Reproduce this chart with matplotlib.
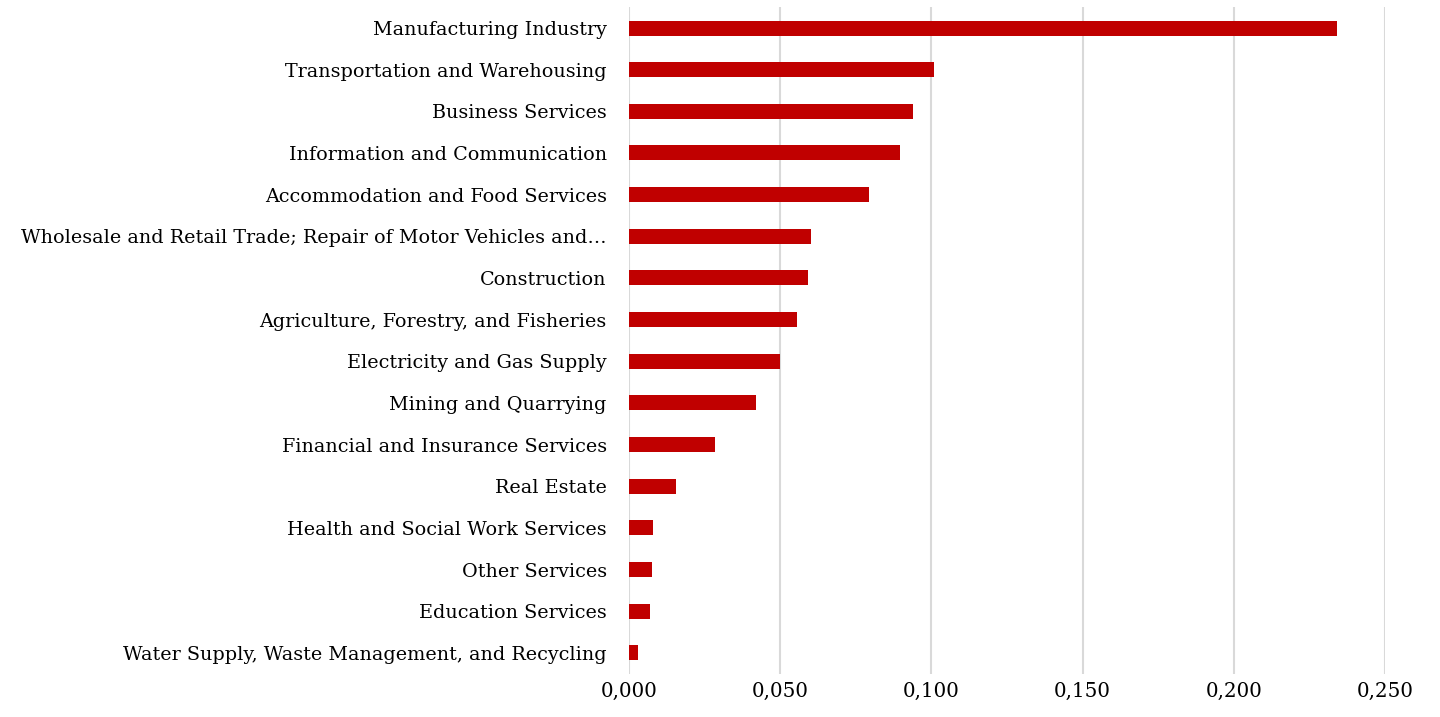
import matplotlib
matplotlib.use("Agg")
import matplotlib.pyplot as plt
from matplotlib.ticker import FuncFormatter

# sectors, top to bottom
sectors = [
    "Manufacturing Industry",
    "Transportation and Warehousing",
    "Business Services",
    "Information and Communication",
    "Accommodation and Food Services",
    "Wholesale and Retail Trade; Repair of Motor Vehicles and…",
    "Construction",
    "Agriculture, Forestry, and Fisheries",
    "Electricity and Gas Supply",
    "Mining and Quarrying",
    "Financial and Insurance Services",
    "Real Estate",
    "Health and Social Work Services",
    "Other Services",
    "Education Services",
    "Water Supply, Waste Management, and Recycling",
]
values = [0.234, 0.101, 0.094, 0.0896, 0.0794, 0.0602, 0.0592, 0.0556,
          0.050, 0.042, 0.0284, 0.0155, 0.0079, 0.0076, 0.0069, 0.003]
xticks = [0, 0.05, 0.10, 0.15, 0.20, 0.25]

plt.rcParams['font.family'] = ['DejaVu Serif']

fig = plt.figure(figsize=(14.4, 7.17), dpi=100)
ax = fig.add_axes([0.4368, 0.0603, 0.525, 0.9297])

y = list(range(len(sectors)))
ax.barh(y, values, height=0.36, color='#c00000', zorder=3)
ax.set_yticks(y)
ax.set_yticklabels(sectors, fontsize=13.8)
ax.set_ylim(len(sectors) - 0.5, -0.5)
ax.set_xlim(0, 0.25)
ax.set_xticks(xticks)
ax.xaxis.set_major_formatter(FuncFormatter(lambda v, p: f"{v:.3f}".replace('.', ',')))
ax.tick_params(axis='x', labelsize=14.3, length=0, pad=6)
ax.tick_params(axis='y', length=0, pad=16)
ax.grid(axis='x', color='#d9d9d9', linewidth=1.5, zorder=0)
for s in ax.spines.values():
    s.set_visible(False)

fig.savefig("out.png", dpi=100)
